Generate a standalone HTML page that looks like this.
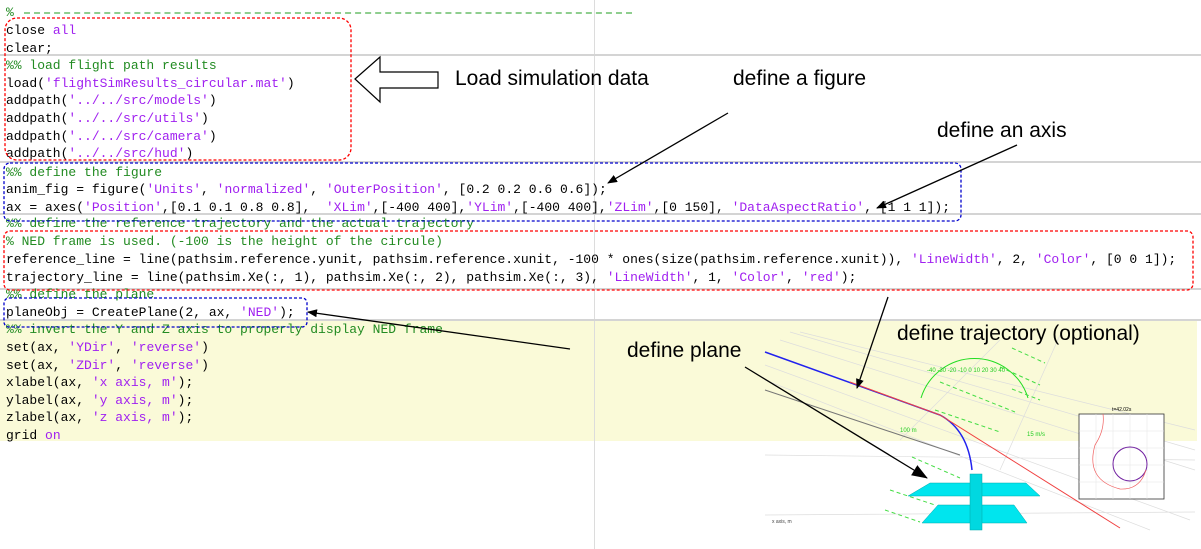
<!DOCTYPE html>
<html><head><meta charset="utf-8"><style>
body{margin:0;width:1201px;height:549px;background:#fff;position:relative;overflow:hidden;font-family:"Liberation Mono",monospace}
.l{position:absolute;left:6px;font-size:13px;line-height:17px;white-space:pre;color:#000}
.c{color:#228B22}.s{color:#A020F0}
.t{position:absolute;font-family:"Liberation Sans",sans-serif;font-size:21px;color:#000;white-space:nowrap}
.sep{position:absolute;left:0;width:1201px;height:2px;background:#d4d4d4}
</style></head><body>
<div style="position:absolute;left:0;top:320px;width:1197px;height:121px;background:#fafad8"></div>
<div style="position:absolute;left:594px;top:0;width:1px;height:549px;background:#dcdcdc"></div>
<div class="sep" style="top:54px"></div>
<div class="sep" style="top:161px"></div>
<div class="sep" style="top:213px"></div>
<div class="sep" style="top:288px"></div>
<div class="sep" style="top:319px"></div>

<div class="l c" style="top:4px">%</div>
<div style="position:absolute;left:24px;top:12px;width:608px;border-top:2px dashed #8fce8f"></div>
<div class="l" style="top:22px">close <span class="s">all</span></div>
<div class="l" style="top:40px">clear;</div>
<div class="l c" style="top:57px">%% load flight path results</div>
<div class="l" style="top:75px">load(<span class="s">'flightSimResults_circular.mat'</span>)</div>
<div class="l" style="top:92px">addpath(<span class="s">'../../src/models'</span>)</div>
<div class="l" style="top:110px">addpath(<span class="s">'../../src/utils'</span>)</div>
<div class="l" style="top:128px">addpath(<span class="s">'../../src/camera'</span>)</div>
<div class="l" style="top:145px">addpath(<span class="s">'../../src/hud'</span>)</div>
<div class="l c" style="top:164px">%% define the figure</div>
<div class="l" style="top:181px">anim_fig = figure(<span class="s">'Units'</span>, <span class="s">'normalized'</span>, <span class="s">'OuterPosition'</span>, [0.2 0.2 0.6 0.6]);</div>
<div class="l" style="top:199px">ax = axes(<span class="s">'Position'</span>,[0.1 0.1 0.8 0.8],  <span class="s">'XLim'</span>,[-400 400],<span class="s">'YLim'</span>,[-400 400],<span class="s">'ZLim'</span>,[0 150], <span class="s">'DataAspectRatio'</span>, [1 1 1]);</div>
<div class="l c" style="top:215px">%% define the reference trajectory and the actual trajectory</div>
<div class="l c" style="top:233px">% NED frame is used. (-100 is the height of the circule)</div>
<div class="l" style="top:251px">reference_line = line(pathsim.reference.yunit, pathsim.reference.xunit, -100 * ones(size(pathsim.reference.xunit)), <span class="s">'LineWidth'</span>, 2, <span class="s">'Color'</span>, [0 0 1]);</div>
<div class="l" style="top:269px">trajectory_line = line(pathsim.Xe(:, 1), pathsim.Xe(:, 2), pathsim.Xe(:, 3), <span class="s">'LineWidth'</span>, 1, <span class="s">'Color'</span>, <span class="s">'red'</span>);</div>
<div class="l c" style="top:286px">%% define the plane</div>
<div class="l" style="top:304px">planeObj = CreatePlane(2, ax, <span class="s">'NED'</span>);</div>
<div class="l c" style="top:321px">%% invert the Y and Z axis to properly display NED frame</div>
<div class="l" style="top:339px">set(ax, <span class="s">'YDir'</span>, <span class="s">'reverse'</span>)</div>
<div class="l" style="top:357px">set(ax, <span class="s">'ZDir'</span>, <span class="s">'reverse'</span>)</div>
<div class="l" style="top:374px">xlabel(ax, <span class="s">'x axis, m'</span>);</div>
<div class="l" style="top:392px">ylabel(ax, <span class="s">'y axis, m'</span>);</div>
<div class="l" style="top:409px">zlabel(ax, <span class="s">'z axis, m'</span>);</div>
<div class="l" style="top:427px">grid <span class="s">on</span></div>

<svg style="position:absolute;left:0;top:0" width="1201" height="549">
<defs><marker id="a" markerWidth="10" markerHeight="8" refX="9" refY="4" orient="auto" markerUnits="userSpaceOnUse"><path d="M0,0L10,4L0,8z" fill="#000"/></marker>
<marker id="b" markerWidth="16" markerHeight="12" refX="15" refY="6" orient="auto" markerUnits="userSpaceOnUse"><path d="M0,0L16,6L0,12z" fill="#000"/></marker></defs>
<rect x="765" y="441" width="430" height="90" fill="#fff"/>
<g stroke="#ddd" stroke-width="0.7" fill="none">
<path d="M765,365L1190,520M765,380L1150,530M780,340L1195,470M790,332L1195,450M800,332L1195,430M765,455L1195,460M765,515L1195,512M900,440L1000,340M1060,335L1000,470"/>
</g>
<path d="M765,390L960,455" stroke="#777" stroke-width="1" fill="none"/>
<path d="M765,352L940,415Q968,430 972,470" stroke="#2222ee" stroke-width="1.5" fill="none"/>
<path d="M850,382L940,415L1120,528" stroke="#f04040" stroke-width="1" fill="none"/>
<path d="M921,398A56,56 0 0 1 1028,398" stroke="#22dd22" stroke-width="1" fill="none"/>
<g stroke="#44dd44" stroke-width="1" stroke-dasharray="4,3" fill="none">
<path d="M940,382L1015,412M935,410L1000,432M912,457L960,478M890,490L935,505M885,510L920,522M1012,348L1045,363M1012,389L1040,400M1000,367L1040,385"/>
</g>
<g font-family="Liberation Sans" font-size="6" fill="#22cc22"><text x="927" y="372">-40 -30 -20 -10 0 10 20 30 40</text><text x="1027" y="436">15 m/s</text><text x="900" y="432">100 m</text></g>
<text x="772" y="523" font-family="Liberation Sans" font-size="5" fill="#444">x axis, m</text>
<polygon points="930,483 1026,483 1040,496 908,496" fill="#00e5ee" stroke="#0aa" stroke-width="0.5"/>
<polygon points="938,505 1014,505 1027,523 922,523" fill="#00e5ee" stroke="#0aa" stroke-width="0.5"/>
<rect x="970" y="474" width="12" height="56" fill="#00d8e0" stroke="#0aa" stroke-width="0.5"/>
<rect x="1079" y="414" width="85" height="85" fill="#fff" stroke="#333" stroke-width="0.8"/>
<g stroke="#e4e4e4" stroke-width="0.5"><path d="M1096,414V499M1113,414V499M1130,414V499M1147,414V499M1079,431H1164M1079,448H1164M1079,465H1164M1079,482H1164"/></g>
<circle cx="1130" cy="464" r="17" fill="none" stroke="#7020a0" stroke-width="1"/>
<path d="M1103,414Q1105,430 1095,445Q1085,480 1120,489Q1140,490 1146,470" stroke="#f06060" fill="none" stroke-width="0.7"/>
<text x="1112" y="411" font-family="Liberation Sans" font-size="5">t=42.02s</text>
<rect x="5" y="18" width="346" height="142" rx="12" fill="none" stroke="#f00" stroke-width="1.3" stroke-dasharray="3,2"/>
<rect x="4" y="163" width="957" height="58" rx="6" fill="none" stroke="#00c" stroke-width="1.3" stroke-dasharray="3,2"/>
<rect x="4" y="231" width="1189" height="59" rx="6" fill="none" stroke="#f00" stroke-width="1.3" stroke-dasharray="3,2"/>
<rect x="4" y="298" width="303" height="29" rx="5" fill="none" stroke="#00c" stroke-width="1.3" stroke-dasharray="3,2"/>
<polygon points="355,79 380,57 380,72 438,72 438,88 380,88 380,102" fill="#fff" stroke="#000" stroke-width="1.2"/>
<g stroke="#000" stroke-width="1.3">
<line x1="728" y1="113" x2="608" y2="183" marker-end="url(#a)"/>
<line x1="1017" y1="145" x2="877" y2="208" marker-end="url(#a)"/>
<line x1="570" y1="349" x2="308" y2="312" marker-end="url(#a)"/>
<line x1="888" y1="297" x2="857" y2="388" marker-end="url(#a)"/>
<line x1="745" y1="367" x2="927" y2="478" marker-end="url(#b)"/>
</g>
</svg>
<div class="t" style="left:455px;top:67px">Load simulation data</div>
<div class="t" style="left:733px;top:67px">define a figure</div>
<div class="t" style="left:937px;top:119px">define an axis</div>
<div class="t" style="left:897px;top:322px">define trajectory (optional)</div>
<div class="t" style="left:627px;top:339px">define plane</div>
</body></html>
